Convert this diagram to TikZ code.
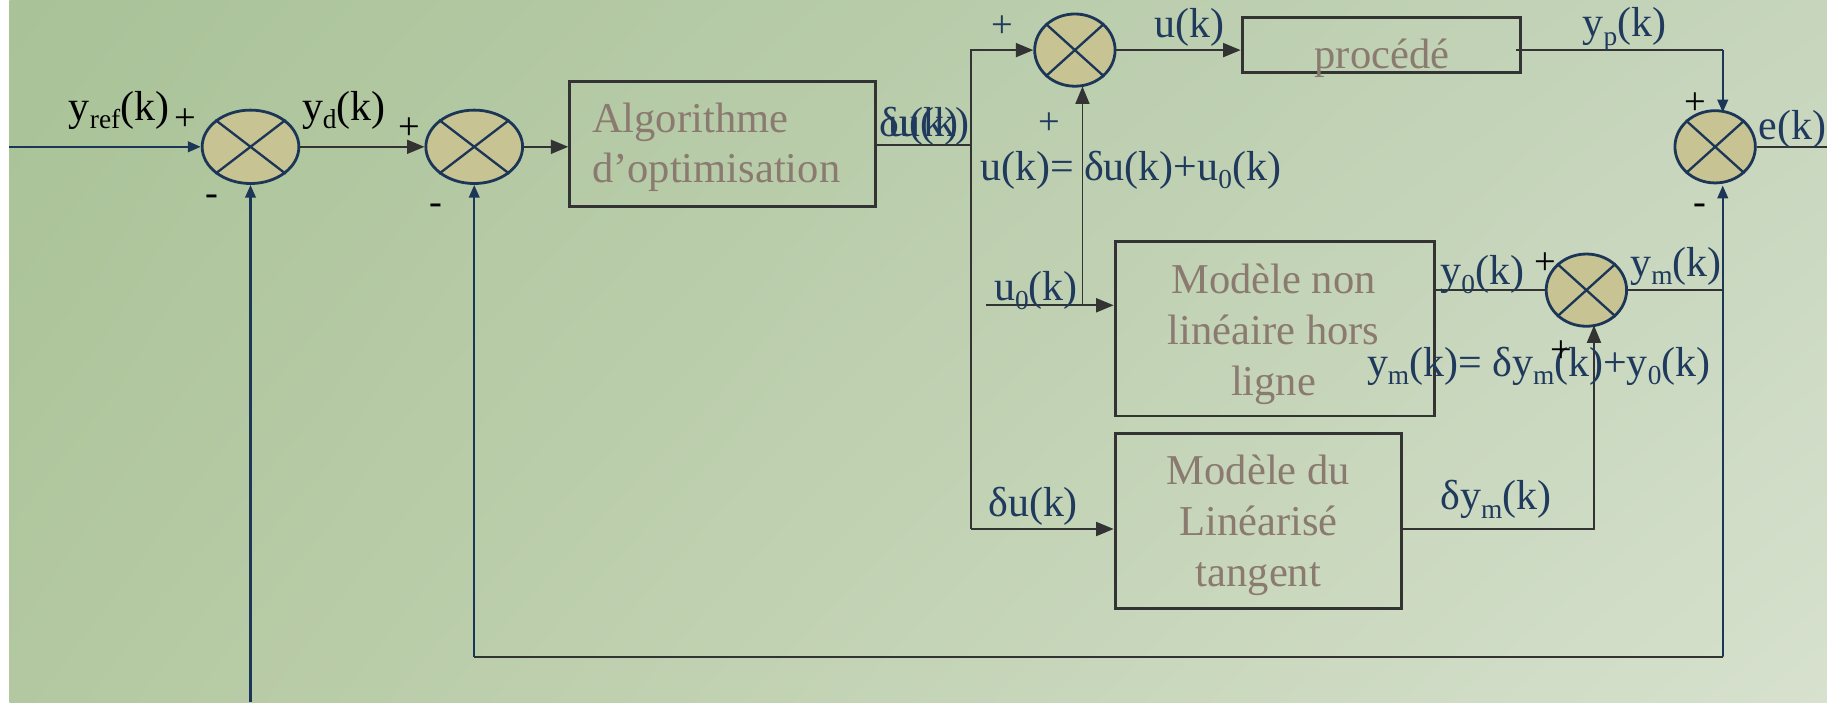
\documentclass[tikz,border=0pt]{standalone}
\usepackage{fontspec}
\setmainfont{Liberation Serif}
\usetikzlibrary{shapes.geometric,arrows.meta,calc,shadings}
\definecolor{navy}{HTML}{1C3658}
\definecolor{dark}{HTML}{333333}
\definecolor{labc}{HTML}{1F3A5C}
\definecolor{boxc}{HTML}{8A7A70}
\definecolor{sumfill}{HTML}{C8C392}
\definecolor{bgTL}{HTML}{A9C297}
\definecolor{bgTR}{HTML}{C6D5BC}
\definecolor{bgBL}{HTML}{B3C8A0}
\definecolor{bgBR}{HTML}{D7E1CE}
\newcommand{\sbs}[1]{\raisebox{-0.2em}{\fontsize{23.5}{24}\selectfont #1}}
\begin{document}
\begin{tikzpicture}[x=1pt,y=-1pt,
  lbl/.style={text=labc,font=\fontsize{36}{42}\selectfont,inner sep=0pt,anchor=base west},
  sgn/.style={text=black,font=\fontsize{33}{40}\selectfont,inner sep=0pt},
  sgnb/.style={text=labc,font=\fontsize{33}{40}\selectfont,inner sep=0pt},
  btxt/.style={text=boxc,font=\fontsize{36.5}{44}\selectfont,inner sep=0pt,anchor=base},
  blk/.style={draw=dark,line width=2.5pt,inner sep=0pt},
  sumj/.style={ellipse,draw=navy,fill=sumfill,line width=2.4pt,inner sep=0pt},
  crs/.style={navy,line width=2pt},
  wire/.style={dark,line width=1.6pt},
  nwire/.style={navy,line width=2pt},
  arr/.style={-{Triangle[length=15pt,width=12pt]}},
  narr/.style={-{Triangle[length=11pt,width=9pt]}}]

% background
\fill[white] (0,0) rectangle (1568,602.5);
\shade[upper left=bgTL,upper right=bgTR,lower left=bgBL,lower right=bgBR] (8,0) rectangle (1568,602.5);
\useasboundingbox (0,0) rectangle (1568,602.5);

% blocks
\node[blk,minimum width=262pt,minimum height=107pt] (algo) at (620,123.5) {};
\node[blk,minimum width=239pt,minimum height=47pt] (proc) at (1185.5,38.5) {};
\node[blk,minimum width=274pt,minimum height=150pt] (nl) at (1094,282) {};
\node[blk,minimum width=246pt,minimum height=150pt] (lin) at (1080,447) {};

% summing junctions
\node[sumj,minimum width=83pt,minimum height=63pt] (s1) at (215,126) {};
\node[sumj,minimum width=83pt,minimum height=63pt] (s2) at (407,126) {};
\node[sumj,minimum width=69pt,minimum height=62pt] (su) at (922.5,43) {};
\node[sumj,minimum width=69pt,minimum height=62pt] (se) at (1472,126) {};
\node[sumj,minimum width=69pt,minimum height=62pt] (s4) at (1361.5,249) {};
\foreach \s in {s1,s2,su,se,s4}{
  \draw[crs] (\s.north west) -- (\s.south east) (\s.north east) -- (\s.south west);
}

% coordinates
\coordinate (in) at (8,126);
\coordinate (j1) at (833,124.5);
\coordinate (jtop) at (833,43);
\coordinate (jbot) at (833,454);
\coordinate (u0s) at (846.6,262);
\coordinate (u0j) at (929,262);
\coordinate (ypc) at (1478.5,43);
\coordinate (ypa) at (1478.5,96.5);
\coordinate (out) at (1568,126);
\coordinate (ymc) at (1478.5,249);
\coordinate (br) at (1478.5,563.5);
\coordinate (bl) at (407,563.5);
\coordinate (s1b) at (215,602.5);
\coordinate (dyc) at (1368,454);
\coordinate (nlout) at (1231,249);
\coordinate (linout) at (1203,454);

% connectors
\draw[nwire,narr] (in) -- (s1.west);
\draw[wire,arr] (s1.east) -- (s2.west);
\draw[wire,arr] (s2.east) -- (algo.west |- s2.east);
\draw[wire] (algo.east |- j1) -- (j1);
\draw[wire,arr] (jbot) -- (jtop) -- (su.west);
\draw[wire,arr] (jbot) -- (lin.west |- jbot);
\draw[wire,arr] (su.east) -- (proc.west |- su.east);
\draw[wire] ($(proc.east |- ypc)+(-5,0)$) -- (ypc);
\draw[nwire,narr] (ypc) -- (ypa);
\draw[wire] (se.east) -- (out);
\draw[wire,arr] (u0s) -- (nl.west |- u0s);
\draw[wire,arr] (u0j) -- ($(u0j |- su.south)+(0,-1)$);
\draw[wire] (nlout) -- (s4.west);
\draw[wire] (s4.east) -- (ymc);
\draw[wire,arr] (linout) -- (dyc) -- ($(dyc |- s4.south)+(0,-2)$);
\draw[nwire,narr] (ymc) -- (br) -- ($(br |- se.south)+(0,1)$);
\draw[wire] (br) -- (bl);
\draw[nwire,narr] (bl) -- (s2.south);
\draw[nwire,narr] (s1b) -- (s1.south);

% block texts
\node[btxt,anchor=base west] (t1) at (508,114) {Algorithme};
\node[btxt,anchor=base west] (t2) at (508,157) {d’optimisation};
\node[btxt] (t3) at (1186,58.5) {procédé};
\node[btxt] (t4) at (1093,252) {Modèle non};
\node[btxt] (t5) at (1093,296) {linéaire hors};
\node[btxt] (t6) at (1093,339) {ligne};
\node[btxt] (t7) at (1080,416) {Modèle du};
\node[btxt] (t8) at (1080,460) {Linéarisé};
\node[btxt] (t9) at (1080,503) {tangent};

% labels
\node[lbl,text=black] (l1) at (59,103) {y\sbs{ref}(k)};
\node[lbl,text=black] (l2) at (259,103) {y\sbs{d}(k)};
\node[lbl] (l3) at (755,117) {δu(k)};
\node[lbl] (l3b) at (762,117) {u(k)};
\node[lbl] (l4) at (991,32) {u(k)};
\node[lbl] (l5) at (841,154.5) {u(k)= δu(k)+u\sbs{0}(k)};
\node[lbl] (l6) at (853,258) {u\sbs{0}(k)};
\node[lbl] (l7) at (1358,31.5) {y\sbs{p}(k)};
\node[lbl] (l8) at (1509,120) {e(k)};
\node[lbl] (l9) at (1236,244.5) {y\sbs{0}(k)};
\node[lbl] (l10) at (1399,237) {y\sbs{m}(k)};
\node[lbl] (l11) at (1173,323) {y\sbs{m}(k)= δy\sbs{m}(k)+y\sbs{0}(k)};
\node[lbl] (l12) at (848,443) {δu(k)};
\node[lbl] (l13) at (1236,437.5) {δy\sbs{m}(k)};

% signs
\node[sgn] (p1) at (159,103) {+};
\node[sgn] (m1) at (182,172) {-};
\node[sgn] (p2) at (351.5,110) {+};
\node[sgn] (m2) at (374,180) {-};
\node[sgnb] (p3) at (860,23) {+};
\node[sgnb] (p4) at (901,106) {+};
\node[sgn] (p5) at (1455,89) {+};
\node[sgn] (m5) at (1459,180) {-};
\node[sgn] (p6) at (1326,226) {+};
\node[sgn] (p7) at (1340,302) {+};
\end{tikzpicture}
\end{document}
